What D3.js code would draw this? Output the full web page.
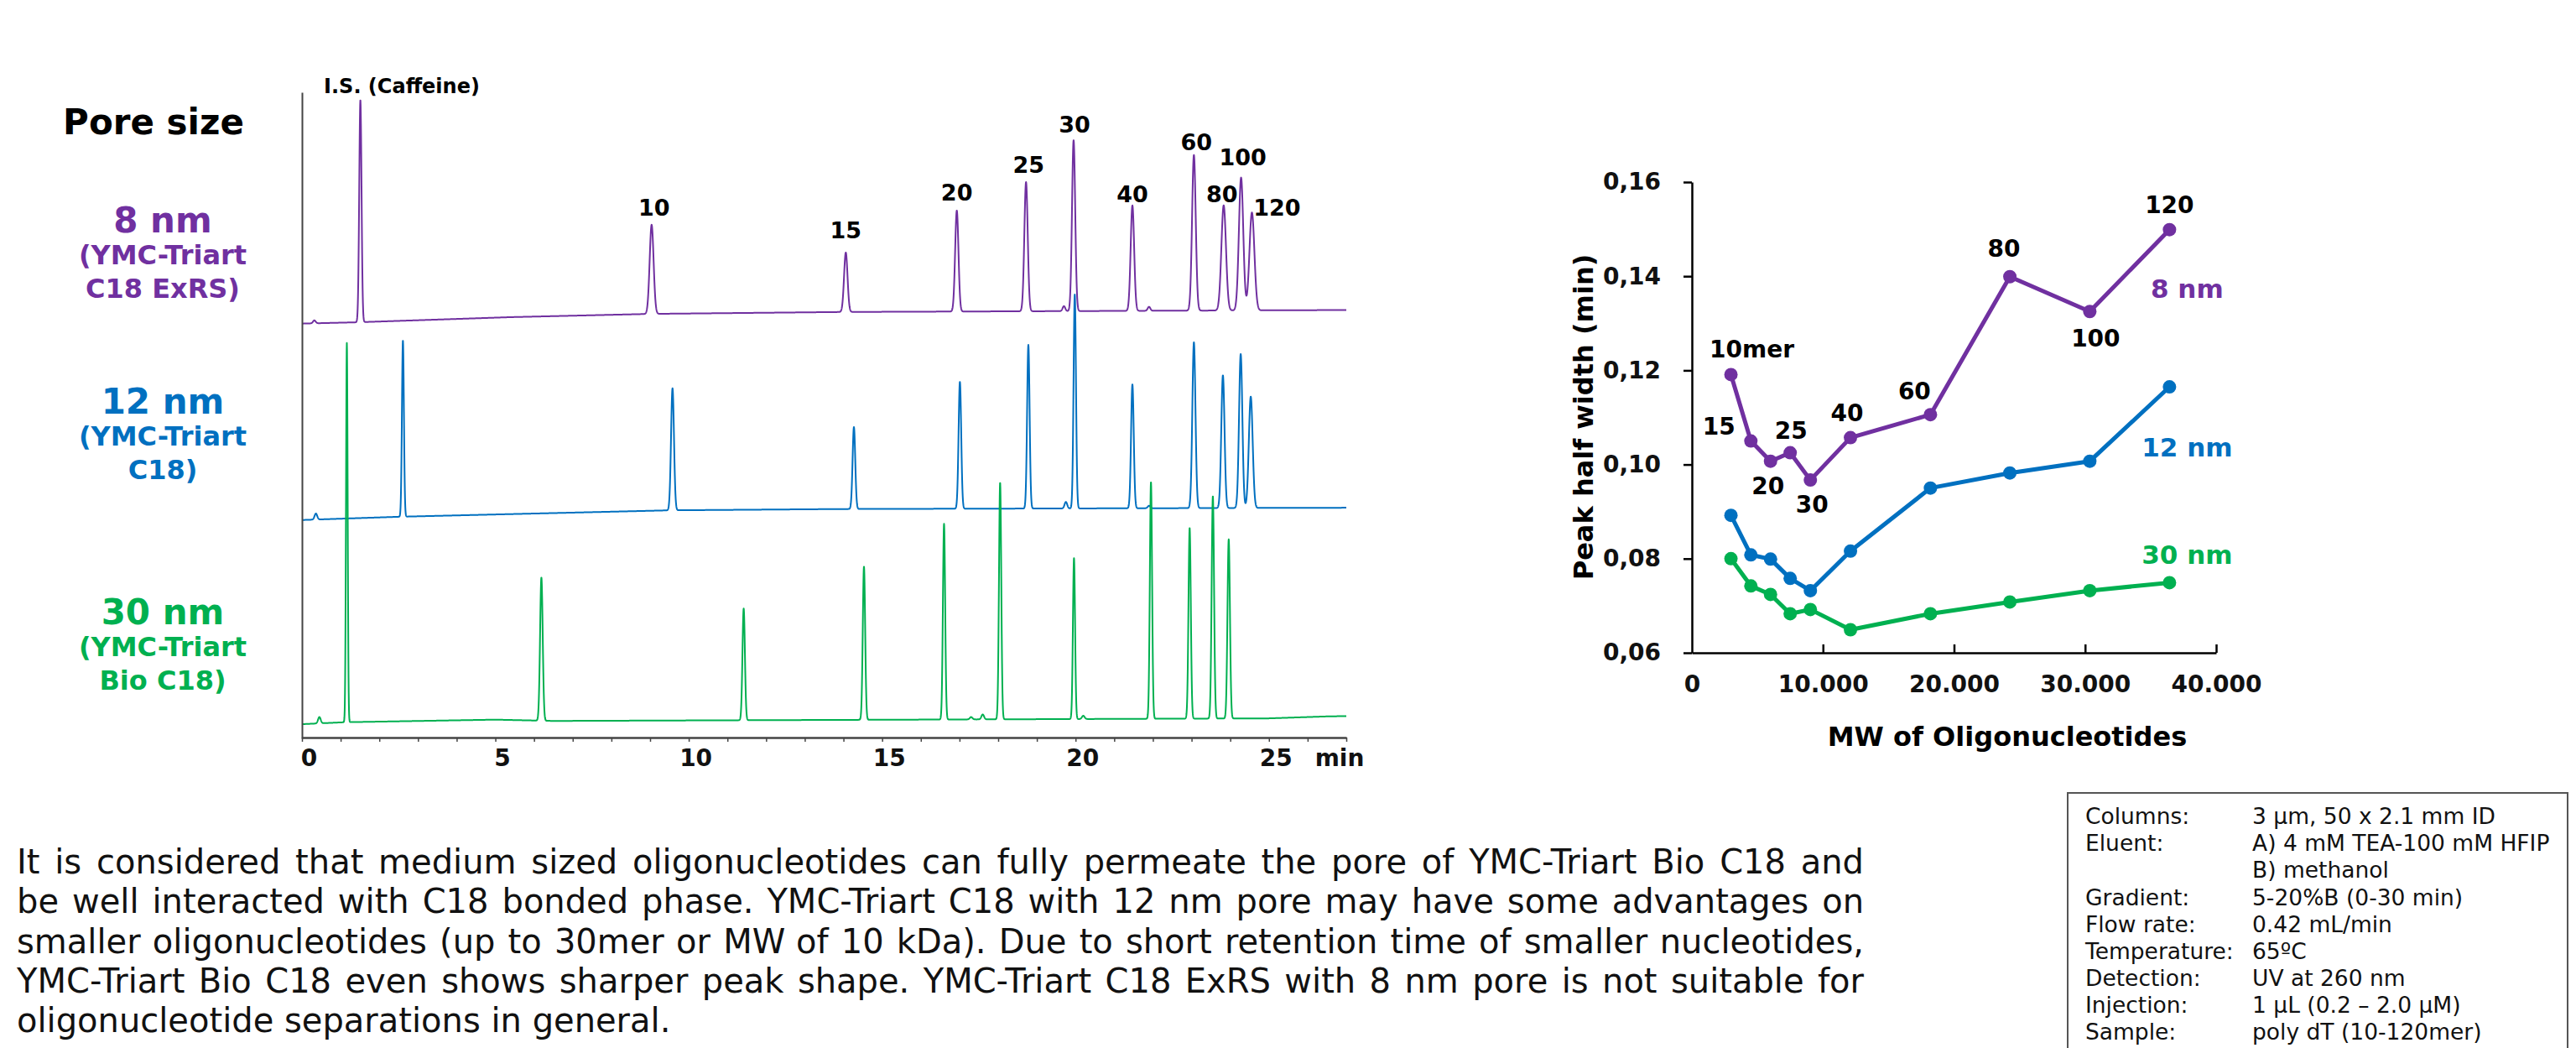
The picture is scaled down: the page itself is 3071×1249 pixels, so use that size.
<!DOCTYPE html>
<html>
<head>
<meta charset="utf-8">
<script src="https://cdn.jsdelivr.net/npm/d3@7"></script>
<style>
  body { margin: 0; background: #fff; }
  svg { display: block; font-family: "DejaVu Sans", Verdana, sans-serif; }
</style>
</head>
<body>
<svg id="canvas" width="3071" height="1249"></svg>
<script>
// ---- data ----
// poly dT oligos
const merLabels = ["10", "15", "20", "25", "30", "40", "60", "80", "100", "120"]
const oligoMW = [2980, 4500, 6000, 7500, 9040, 12100, 18200, 24260, 30360, 36440]

// peak half width (min) per pore size
const halfWidth8 = [0.1191, 0.1050, 0.1007, 0.1025, 0.0967, 0.1057, 0.1106, 0.1399, 0.1325, 0.1499]
const halfWidth12 = [0.0892, 0.0808, 0.0799, 0.0758, 0.0732, 0.0816, 0.0950, 0.0982, 0.1007, 0.1165]
const halfWidth30 = [0.0800, 0.0742, 0.0724, 0.0683, 0.0692, 0.0649, 0.0683, 0.0708, 0.0732, 0.0749]

// retention times (min) of the oligo peaks
const rt8 = [9.04, 14.06, 16.93, 18.72, 19.95, 21.47, 23.06, 23.83, 24.28, 24.56]
const rt12 = [9.58, 14.27, 17.01, 18.78, 19.98, 21.47, 23.06, 23.81, 24.27, 24.53]
const rt30 = [6.19, 11.42, 14.53, 16.60, 18.05, 19.96, 21.95, 22.95, 23.55, 23.96]
// peak apex (stacked signal, arbitrary units)
const top8 = [79.5, 75.2, 81.7, 86.1, 92.6, 82.5, 90.3, 82.5, 86.8, 81.4]
const top12 = [54.2, 48.2, 55.2, 60.9, 68.7, 54.8, 61.3, 56.2, 59.5, 52.9]
const top30 = [24.9, 20.1, 26.6, 33.2, 39.6, 27.9, 39.7, 32.6, 37.5, 30.8]

// internal standard (caffeine): 8 nm, 12 nm, 30 nm
const isTime = [1.51, 2.61, 1.16]
const isTop = [98.8, 61.6, 61.2]
const isWidth = [0.07, 0.06, 0.05]

// baselines [time, signal]
const base8 = [[0, 64.2], [1.4, 64.4], [5.4, 65.2], [9, 65.7], [14, 66.0], [27, 66.3]]
const base12 = [[0, 33.8], [2.5, 34.3], [9.5, 35.3], [14, 35.5], [27, 35.7]]
const base30 = [[0, 2.2], [1.1, 2.5], [5, 2.9], [6.5, 2.7], [11, 2.8], [25, 3.1], [26.5, 3.4], [27, 3.45]]

// small impurity bumps [time, apex]
const minor8 = [[0.32, 64.7], [19.7, 66.9], [21.9, 66.8]]
const minor12 = [[0.36, 34.8], [19.75, 36.6], [21.9, 36.0]]
const minor30 = [[0.45, 3.3], [17.3, 3.3], [17.6, 3.7], [20.2, 3.5]]

const timeTicks = [0, 5, 10, 15, 20, 25]
const mwTicks = [0, 10000, 20000, 30000, 40000]
const hwTicks = [0.06, 0.08, 0.10, 0.12, 0.14, 0.16]

const paraLines = [
    "It is considered that medium sized oligonucleotides can fully permeate the pore of YMC-Triart Bio C18 and",
    "be well interacted with C18 bonded phase. YMC-Triart C18 with 12 nm pore may have some advantages on",
    "smaller oligonucleotides (up to 30mer or MW of 10 kDa). Due to short retention time of smaller nucleotides,",
    "YMC-Triart Bio C18 even shows sharper peak shape. YMC-Triart C18 ExRS with 8 nm pore is not suitable for",
    "oligonucleotide separations in general."
]
const conditions = [
    ["Columns:", "3 \u00b5m, 50 x 2.1 mm ID"],
    ["Eluent:", "A) 4 mM TEA-100 mM HFIP"],
    ["", "B) methanol"],
    ["Gradient:", "5-20%B (0-30 min)"],
    ["Flow rate:", "0.42 mL/min"],
    ["Temperature:", "65\u00baC"],
    ["Detection:", "UV at 260 nm"],
    ["Injection:", "1 \u00b5L (0.2 \u2013 2.0 \u00b5M)"],
    ["Sample:", "poly dT (10-120mer)"]
]

const purple = "#7030A0", blue = "#0070C0", green = "#00B050"

const columns = [
    {size: "8 nm", sub: ["(YMC-Triart", "C18 ExRS)"], color: purple, rt: rt8, top: top8, hw: halfWidth8, base: base8, minor: minor8},
    {size: "12 nm", sub: ["(YMC-Triart", "C18)"], color: blue, rt: rt12, top: top12, hw: halfWidth12, base: base12, minor: minor12},
    {size: "30 nm", sub: ["(YMC-Triart", "Bio C18)"], color: green, rt: rt30, top: top30, hw: halfWidth30, base: base30, minor: minor30}
]

// label layout (offsets in px)
const chromLabelOffset = [[3, -20], [0, -26], [0, -21], [3, -20], [1, -18], [0, -13], [3, -15], [-2, -13], [2, -24], [30, -6]]
const pointLabelText = ["10mer", "15", "20", "25", "30", "40", "60", "80", "100", "120"]
const pointLabelOffset = [[25, -30], [-38, -17], [-3, 30], [1, -26], [2, 29], [-4, -29], [-19, -28], [-7, -34], [7, 32], [0, -29]]
const seriesLabelOffset = [[21, 70], [21, 72], [21, -33]]
const leftLabelY = [262, 478, 729]

const canvas = d3.select("#canvas")
canvas.append("rect").attr("width", 3071).attr("height", 1249).attr("fill", "#fff")

const boldTxt = (sel) => sel.attr("font-weight", "bold").attr("text-anchor", "middle").attr("dy", "0.35em")

// ---- chromatograms ----
const xT = d3.scaleLinear().domain([0, 27]).range([360, 1605])
const yS = d3.scaleLinear().domain([0, 100]).range([880, 110])
const line = d3.line().x(d => xT(d[0])).y(d => yS(d[1]))
const times = d3.range(0, 27.0001, 0.004)
const k = 4 * Math.LN2

columns.forEach((c, ci) => {
    const baseline = d3.scaleLinear().domain(c.base.map(d => d[0])).range(c.base.map(d => d[1]))
    const peaks = c.rt.map((t, i) => ({t: t, h: c.top[i] - baseline(t), w: c.hw[i]}))
    peaks.push({t: isTime[ci], h: isTop[ci] - baseline(isTime[ci]), w: isWidth[ci]})
    c.minor.forEach(m => peaks.push({t: m[0], h: m[1] - baseline(m[0]), w: 0.08}))
    const signal = times.map(t => [t, baseline(t) + d3.sum(peaks, p => p.h * Math.exp(-k * (t - p.t) * (t - p.t) / (p.w * p.w)))])
    canvas.append("path")
        .attr("d", line(signal))
        .attr("fill", "none")
        .attr("stroke", c.color)
        .attr("stroke-width", 2)
        .attr("stroke-linejoin", "round")
})

// peak labels on the 8 nm trace
canvas.append("g").selectAll("text").data(merLabels).join("text")
    .attr("x", (d, i) => xT(rt8[i]) + chromLabelOffset[i][0])
    .attr("y", (d, i) => yS(top8[i]) + chromLabelOffset[i][1])
    .attr("font-size", 27).call(boldTxt)
    .text(d => d)

canvas.append("text").attr("x", 479).attr("y", 103).attr("font-size", 24).call(boldTxt).text("I.S. (Caffeine)")

// axes
const xAxisT = canvas.append("g").attr("transform", "translate(0,879)")
    .call(d3.axisBottom(xT).tickValues(d3.range(0, 28)).tickSize(5).tickSizeOuter(0).tickPadding(9)
        .tickFormat(d => timeTicks.includes(d) ? d : ""))
xAxisT.select(".domain").attr("stroke", "#444").attr("stroke-width", 2.5)
xAxisT.selectAll(".tick line").attr("stroke", "#444").attr("stroke-width", 1.5)
xAxisT.selectAll(".tick text").attr("font-size", 28).attr("font-weight", "bold").attr("fill", "#111")
    .attr("font-family", "DejaVu Sans").attr("dx", 8)
canvas.append("text").attr("x", 1597).attr("y", 879 + 14).attr("dy", "0.71em")
    .attr("text-anchor", "middle").attr("font-size", 28).attr("font-weight", "bold").attr("fill", "#111").text("min")

const yAxisT = canvas.append("g").attr("transform", "translate(360,0)")
    .call(d3.axisLeft(yS).tickValues([]).tickSizeOuter(0))
yAxisT.select(".domain").attr("stroke", "#444").attr("stroke-width", 2)

// left labels
canvas.append("text").attr("x", 183).attr("y", 145).attr("font-size", 42).call(boldTxt).text("Pore size")
columns.forEach((c, ci) => {
    const g = canvas.append("g").attr("fill", c.color)
    g.append("text").attr("x", 194).attr("y", leftLabelY[ci]).attr("font-size", 42).call(boldTxt).text(c.size)
    c.sub.forEach((s, j) => {
        g.append("text").attr("x", 194).attr("y", leftLabelY[ci] + 42 + j * 40).attr("font-size", 32).call(boldTxt).text(s)
    })
})

// ---- peak half width vs MW ----
const loc = d3.formatLocale({decimal: ",", thousands: ".", grouping: [3], currency: ["", ""]})
const xMW = d3.scaleLinear().domain([0, 40000]).range([2017, 2642])
const yHW = d3.scaleLinear().domain([0.06, 0.16]).range([778, 217])

const xAxisM = canvas.append("g").attr("transform", "translate(0,778)")
    .call(d3.axisBottom(xMW).tickValues(mwTicks).tickSizeInner(-10).tickSizeOuter(0).tickPadding(27)
        .tickFormat(loc.format(",.0f")))
const yAxisM = canvas.append("g").attr("transform", "translate(2017,0)")
    .call(d3.axisLeft(yHW).tickValues(hwTicks).tickSize(10).tickSizeOuter(0).tickPadding(27)
        .tickFormat(loc.format(".2f")))
;[xAxisM, yAxisM].forEach(a => {
    a.selectAll(".domain, .tick line").attr("stroke", "#000").attr("stroke-width", 2.5)
    a.selectAll(".tick text").attr("font-size", 28).attr("font-weight", "bold").attr("fill", "#111")
        .attr("font-family", "DejaVu Sans")
})
xAxisM.select(".tick:first-of-type line").remove()

canvas.append("text").attr("x", 2393).attr("y", 878).attr("font-size", 32).call(boldTxt).text("MW of Oligonucleotides")
canvas.append("text").attr("transform", "translate(1888,497) rotate(-90)").attr("font-size", 32).call(boldTxt)
    .text("Peak half width (min)")

const mwLine = d3.line().x((d, i) => xMW(oligoMW[i])).y(d => yHW(d))
columns.forEach((c, ci) => {
    const g = canvas.append("g")
    g.append("path").attr("d", mwLine(c.hw)).attr("fill", "none")
        .attr("stroke", c.color).attr("stroke-width", 5).attr("stroke-linejoin", "round")
    g.selectAll("circle").data(c.hw).join("circle")
        .attr("cx", (d, i) => xMW(oligoMW[i])).attr("cy", d => yHW(d)).attr("r", 8).attr("fill", c.color)
    const last = c.hw.length - 1
    g.append("text")
        .attr("x", xMW(oligoMW[last]) + seriesLabelOffset[ci][0])
        .attr("y", yHW(c.hw[last]) + seriesLabelOffset[ci][1])
        .attr("font-size", 31).attr("fill", c.color).call(boldTxt).text(c.size)
})

canvas.append("g").selectAll("text").data(pointLabelText).join("text")
    .attr("x", (d, i) => xMW(oligoMW[i]) + pointLabelOffset[i][0])
    .attr("y", (d, i) => yHW(halfWidth8[i]) + pointLabelOffset[i][1])
    .attr("font-size", 28).call(boldTxt)
    .text(d => d)

// ---- description paragraph (justified) ----
const paraLeft = 20, paraRight = 2222, paraTop = 1041, paraLead = 47.3
// fit the font so the longest line nearly fills the column
const probe = canvas.append("text").attr("font-size", 36)
const natural = d3.max(paraLines.slice(0, -1), l => probe.text(l).node().getComputedTextLength())
probe.remove()
const paraSize = Math.min(40, 36 * (paraRight - paraLeft) * 0.99 / natural)
const para = canvas.append("g").attr("font-size", paraSize).attr("fill", "#111")
paraLines.forEach((ln, i) => {
    const words = ln.split(" ")
    const t = para.append("text").attr("y", paraTop + i * paraLead)
    const spans = t.selectAll("tspan").data(words).join("tspan").text(d => d)
    const widths = spans.nodes().map(n => n.getComputedTextLength())
    const isLast = i === paraLines.length - 1
    const gap = isLast ? paraSize * 0.318 : (paraRight - paraLeft - d3.sum(widths)) / (words.length - 1)
    let x = paraLeft
    spans.attr("x", (d, j) => { const v = x; x += widths[j] + gap; return v })
})

// ---- conditions box ----
canvas.append("rect").attr("x", 2465).attr("y", 945).attr("width", 596).attr("height", 330)
    .attr("fill", "none").attr("stroke", "#555").attr("stroke-width", 2)
const cond = canvas.append("g").attr("font-size", 26.5).attr("fill", "#111")
conditions.forEach((r, i) => {
    const y = 973 + i * 32.1
    cond.append("text").attr("x", 2486).attr("y", y).attr("dy", "0.35em").text(r[0])
    cond.append("text").attr("x", 2685).attr("y", y).attr("dy", "0.35em").text(r[1])
})
</script>
</body>
</html>
